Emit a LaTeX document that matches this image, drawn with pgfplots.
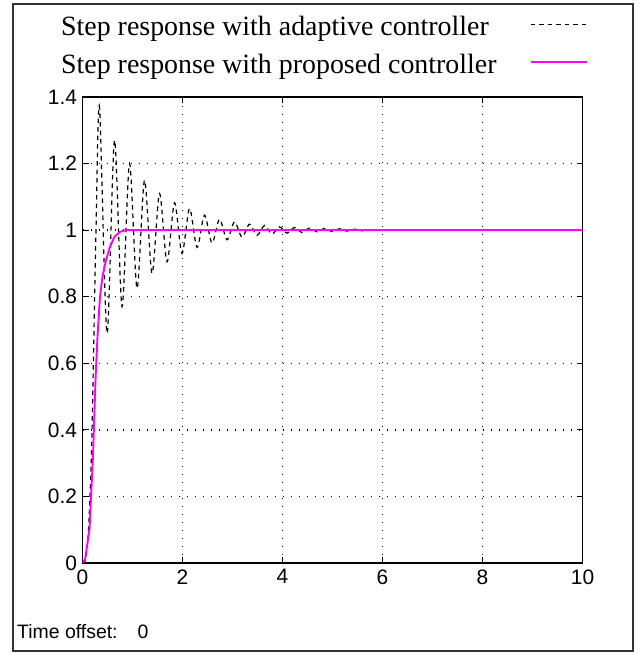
\documentclass[border=0pt]{standalone}
\usepackage{pgfplots}
\pgfplotsset{compat=1.18}
\usepackage{fontspec}
\setmainfont{Liberation Serif}
\setsansfont{Liberation Sans}
\definecolor{propMagenta}{RGB}{255,0,255}

\begin{document}
\begin{tikzpicture}[x=1bp,y=1bp]
\useasboundingbox (0,0) rectangle (640,653);
\draw[line width=1.5bp, black!80] (13,2) rectangle (633,649);

\begin{axis}[
    at={(82.5bp,90bp)}, anchor=south west,
    scale only axis,
    width=500bp, height=466bp,
    xmin=0, xmax=10,
    ymin=0, ymax=1.4,
    xtick={0,2,...,10},
    ytick={0,0.2,...,1.4},
    yticklabels={0,0.2,0.4,0.6,0.8,1,1.2,1.4},
    grid=major,
    grid style={black, line width=1.3bp, dash pattern=on 1.3bp off 6.7bp},
    axis line style={line width=1.6bp},
    tick align=inside,
    major tick length=6bp,
    tick style={black, line width=1.2bp},
    xtick pos=both, ytick pos=both,
    tick label style={font=\sffamily\fontsize{21}{21}\selectfont},
    xticklabel style={yshift=-3bp},
    yticklabel style={xshift=-2bp},
    /pgf/number format/assume math mode=true,
    legend plot pos=right,
    legend cell align=left,
    legend style={at={(-0.055,1.186)}, anchor=north west, draw=none, fill=none,
                  font=\fontsize{28}{28}\selectfont, row sep=5bp, column sep=27bp,
                  inner sep=0pt, nodes={inner sep=6bp}},
    legend image code/.code={\draw[#1] (0bp,0.27em) -- (56bp,0.27em);},
]

% adaptive controller (black dashed)
\addplot[black, line width=1.2bp, dash pattern=on 4.5bp off 4bp, smooth, tension=0.5] coordinates {
    (0,0) (0.06,0.01) (0.12,0.1) (0.18,0.33) (0.22,0.62) (0.27,1.0)
    (0.34,1.37) (0.49,0.69) (0.64,1.27) (0.79,0.77) (0.94,1.20)
    (1.09,0.825) (1.24,1.15) (1.39,0.87) (1.54,1.11) (1.69,0.905)
    (1.84,1.082) (1.99,0.93) (2.14,1.065) (2.29,0.948) (2.44,1.045)
    (2.59,0.961) (2.74,1.033) (2.89,0.971) (3.04,1.025) (3.19,0.979)
    (3.34,1.018) (3.49,0.984) (3.64,1.014) (3.79,0.988) (3.94,1.01)
    (4.09,0.991) (4.24,1.008) (4.39,0.993) (4.54,1.006) (4.69,0.995)
    (4.84,1.005) (4.99,0.996) (5.14,1.004) (5.29,0.997) (5.44,1.003)
    (5.59,0.998) (5.74,1.002) (5.89,0.999) (6.04,1.001) (6.19,0.999)
    (6.34,1.0) (6.7,1.0)
};
\addlegendentry{Step response with adaptive controller}

% proposed controller (magenta)
\addplot[propMagenta, line width=1.9bp] coordinates {
    (0,0) (0.05,0.01) (0.14,0.1) (0.21,0.32) (0.26,0.55) (0.30,0.68)
    (0.35,0.80) (0.40,0.86) (0.47,0.91) (0.55,0.95) (0.64,0.98)
    (0.75,0.995) (0.87,1.0) (10,1.0)
};
\addlegendentry{Step response with proposed controller}

\end{axis}

\node[anchor=west, font=\sffamily\fontsize{19.5}{19.5}\selectfont, inner sep=0pt]
    at (17,21) {Time offset:\hspace{20bp}0};
\end{tikzpicture}
\end{document}
